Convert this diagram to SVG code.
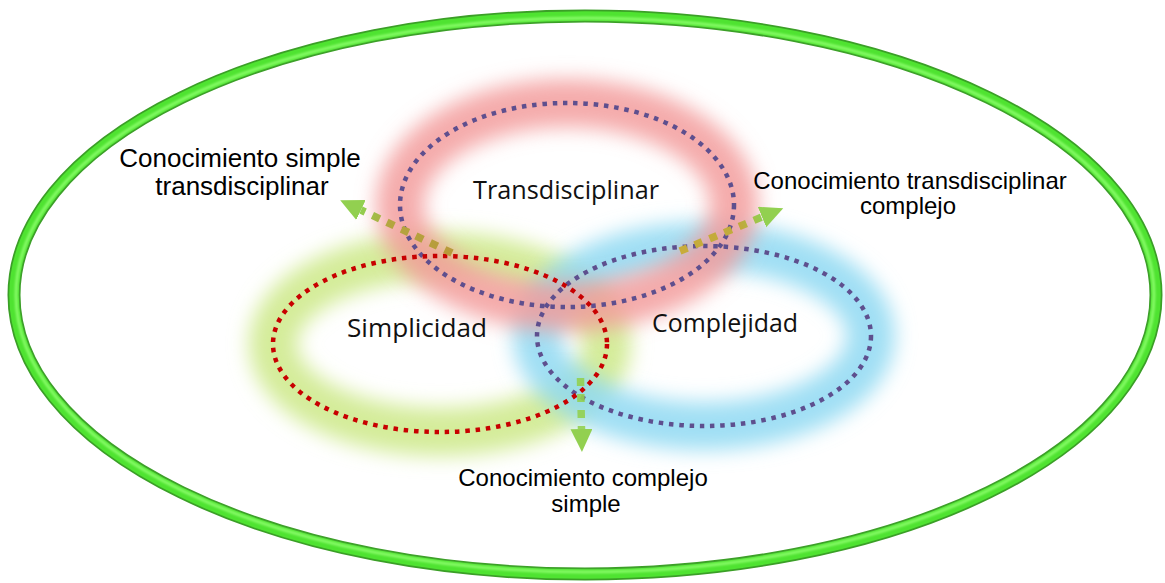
<svg xmlns="http://www.w3.org/2000/svg" width="1165" height="583" viewBox="0 0 1165 583">
  <style>
    .ring-dark { fill: none; stroke: #3b9f27; stroke-width: 13; }
    .ring-mid { fill: none; stroke: #4fe331; stroke-width: 9.5; }
    .ring-hi { fill: none; stroke: #86fb66; stroke-width: 3; }
    .glow { fill: none; stroke-width: 48; filter: url(#soft); }
    .dots { fill: none; stroke-width: 4.5; stroke-dasharray: 4.5 5.8; }
    .purple { stroke: #5e4f8e; }
    .red { stroke: #c80000; }
    .flow { fill: none; stroke-width: 7.5; stroke-dasharray: 8 8; marker-end: url(#head); }
    .label { font-family: "Liberation Sans", Arial, sans-serif; fill: #000; text-anchor: middle; }
    .set { font-family: "Open Sans", "Noto Sans", sans-serif; font-size: 25.5px; fill: #111; text-anchor: middle; }
  </style>
  <defs>
    <filter id="soft" x="-25%" y="-35%" width="150%" height="170%">
      <feGaussianBlur stdDeviation="10"/>
    </filter>
    <filter id="bevelBlur" x="-5%" y="-5%" width="110%" height="110%">
      <feGaussianBlur stdDeviation="0.8"/>
    </filter>
    <marker id="head" markerUnits="userSpaceOnUse" markerWidth="26" markerHeight="24" refX="0" refY="11" orient="auto">
      <path d="M0,0 L23,11 L0,22 Z" fill="#92d050"/>
    </marker>
    <linearGradient id="flowLeft" gradientUnits="userSpaceOnUse" x1="452" y1="253" x2="361" y2="210">
      <stop offset="0" stop-color="#b89a3a"/>
      <stop offset="0.7" stop-color="#b4a640"/>
      <stop offset="1" stop-color="#92d050"/>
    </linearGradient>
    <linearGradient id="flowRight" gradientUnits="userSpaceOnUse" x1="680" y1="251" x2="762" y2="217">
      <stop offset="0" stop-color="#c8ac3a"/>
      <stop offset="0.75" stop-color="#c0aa3c"/>
      <stop offset="1" stop-color="#92d050"/>
    </linearGradient>
  </defs>

  <rect width="1165" height="583" fill="#ffffff"/>

  <!-- outer boundary ring with a bevelled look -->
  <g id="universe">
    <ellipse class="ring-dark" cx="585" cy="295" rx="571" ry="279"/>
    <ellipse class="ring-mid" cx="585" cy="295" rx="571" ry="279"/>
    <ellipse class="ring-hi" cx="585" cy="295" rx="569" ry="277" filter="url(#bevelBlur)"/>
  </g>

  <!-- soft coloured halos behind the three sets -->
  <g id="halos">
    <ellipse class="glow" cx="440" cy="344" rx="167" ry="88" stroke="#d4ec9a"/>
    <ellipse class="glow" cx="704" cy="336" rx="167" ry="90" stroke="#8fd9f2" stroke-opacity="0.85"/>
    <ellipse class="glow" cx="567" cy="205" rx="167" ry="102" stroke="#f39a9a" stroke-opacity="0.82"/>
  </g>

  <g id="node-transdisciplinar">
    <ellipse class="dots purple" cx="567" cy="205" rx="167" ry="102"/>
    <text class="set" x="566" y="199" textLength="186" lengthAdjust="spacingAndGlyphs">Transdisciplinar</text>
  </g>

  <g id="node-complejidad">
    <ellipse class="dots purple" cx="704" cy="336" rx="167" ry="90"/>
    <text class="set" x="725" y="332" textLength="146" lengthAdjust="spacingAndGlyphs">Complejidad</text>
  </g>

  <g id="node-simplicidad">
    <ellipse class="dots red" cx="440" cy="344" rx="167" ry="88"/>
    <text class="set" x="417" y="337" textLength="140" lengthAdjust="spacingAndGlyphs">Simplicidad</text>
  </g>

  <!-- arrows pointing from each overlap to its knowledge label -->
  <g id="connectors">
    <path class="flow" d="M452,253 L361,210" stroke="url(#flowLeft)"/>
    <path class="flow" d="M680,251 L762,217" stroke="url(#flowRight)"/>
    <path class="flow" d="M580.5,378 L581.5,429" stroke="#92d050" stroke-opacity="0.9"/>
  </g>

  <g id="label-simple-transdisciplinar">
    <text class="label" x="240" y="167" font-size="26">Conocimiento simple</text>
    <text class="label" x="242" y="195" font-size="26">transdisciplinar</text>
  </g>

  <g id="label-transdisciplinar-complejo">
    <text class="label" x="910" y="189" font-size="24">Conocimiento transdisciplinar</text>
    <text class="label" x="908" y="214" font-size="24">complejo</text>
  </g>

  <g id="label-complejo-simple">
    <text class="label" x="583" y="486" font-size="24">Conocimiento complejo</text>
    <text class="label" x="586" y="512" font-size="24">simple</text>
  </g>
</svg>
